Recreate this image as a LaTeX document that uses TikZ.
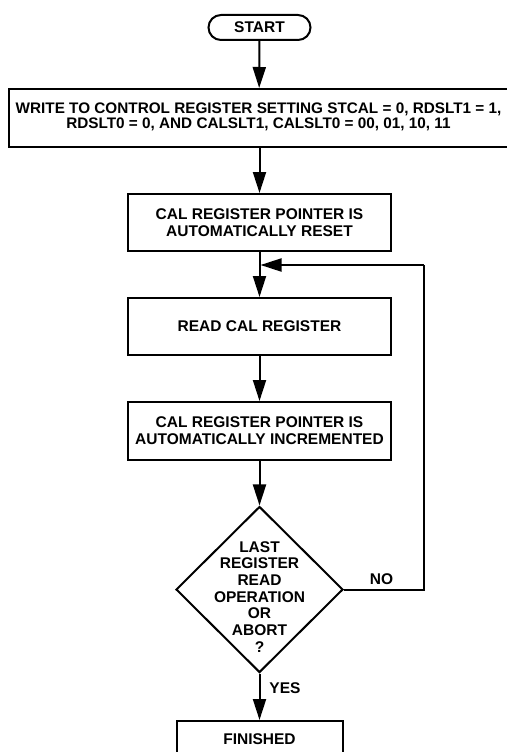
\documentclass[tikz,border=0pt]{standalone}
\usepackage{fontspec}
\setmainfont{Liberation Sans}
\usetikzlibrary{shapes.geometric,arrows.meta}
\begin{document}
\begin{tikzpicture}[x=1pt,y=-1pt,
  lw/.style={line width=2pt},
  txt/.style={font=\bfseries\fontsize{15.5}{17}\selectfont},
  stepbox/.style={draw, lw, inner sep=0pt, align=center, txt, minimum width=263.5pt},
  flow/.style={lw, -{Triangle[length=21pt,width=13pt]}},
  lbl/.style={txt, inner sep=0pt}]
\useasboundingbox (0,0) rectangle (506,752);
\fill[white] (0,0) rectangle (506,752);
\node[draw, lw, rounded corners=12.5pt, minimum width=102pt, minimum height=25pt,
  inner sep=0pt, txt] (start) at (259.5,27.5) {START};
\node[draw, lw, inner sep=0pt, minimum width=500pt, minimum height=58pt] (write) at (259,118) {};
\node[align=center, inner sep=0pt, font=\bfseries\fontsize{15.3}{15.3}\selectfont] (writetext) at (258.5,117)
  {WRITE TO CONTROL REGISTER SETTING STCAL = 0, RDSLT1 = 1,\\RDSLT0 = 0, AND CALSLT1, CALSLT0 = 00, 01, 10, 11};
\node[stepbox, minimum height=57pt] (reset) at (259.5,222.5) {CAL REGISTER POINTER IS\\AUTOMATICALLY RESET};
\node[stepbox, minimum height=57pt] (read) at (259.5,326.5) {READ CAL REGISTER};
\node[stepbox, minimum height=58pt] (incr) at (259.5,431) {CAL REGISTER POINTER IS\\AUTOMATICALLY INCREMENTED};
\node[draw, lw, diamond, minimum width=167pt, minimum height=166pt, inner sep=0pt] (dec) at (259.5,589.5) {};
\node[lbl, align=center, font=\bfseries\fontsize{15.5}{16.7}\selectfont] (dectext) at (259.5,596.7)
  {LAST\\REGISTER\\READ\\OPERATION\\OR\\ABORT\\?};
\node[draw, lw, inner sep=0pt, minimum width=166pt, minimum height=36pt] (fin) at (259.5,739) {};
\node[lbl] (fintext) at (259.5,739) {FINISHED};
\coordinate (join) at (260.5,265);
\coordinate (ne) at (424,265);
\coordinate (se) at (424,589.5);
\draw[flow] (start) -- (write);
\draw[flow] (write.south -| start) -- (reset);
\draw[flow] (reset) -- (read);
\draw[flow] (read) -- (incr);
\draw[flow] (incr) -- (dec);
\draw[flow] (dec) -- (fin);
\draw[lw] (dec.east) -- (se) -- (ne);
\draw[flow] (ne) -- (join);
\node[lbl] (no) at (381.5,579) {NO};
\node[lbl] (yes) at (285,688) {YES};
\end{tikzpicture}
\end{document}
